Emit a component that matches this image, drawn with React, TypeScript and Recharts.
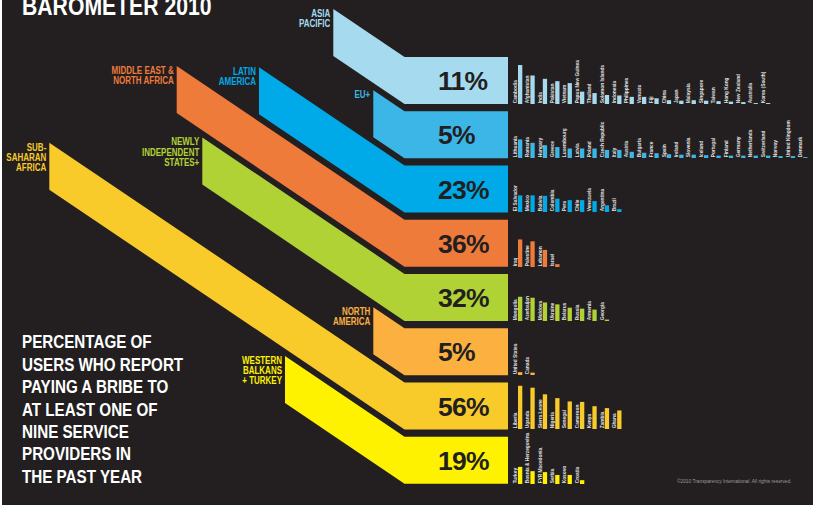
import React from 'react';
import { BarChart, Bar, XAxis, YAxis } from 'recharts';

// ---------- data ----------
const regions = [
  'ASIA PACIFIC',
  'EU+',
  'LATIN AMERICA',
  'MIDDLE EAST & NORTH AFRICA',
  'NEWLY INDEPENDENT STATES+',
  'NORTH AMERICA',
  'SUB-SAHARAN AFRICA',
  'WESTERN BALKANS + TURKEY',
];
const regionPct = [11, 5, 23, 36, 32, 5, 56, 19];
const regionLabelLines = [
  ['ASIA', 'PACIFIC'],
  ['EU+'],
  ['LATIN', 'AMERICA'],
  ['MIDDLE EAST &', 'NORTH AFRICA'],
  ['NEWLY', 'INDEPENDENT', 'STATES+'],
  ['NORTH', 'AMERICA'],
  ['SUB-', 'SAHARAN', 'AFRICA'],
  ['WESTERN', 'BALKANS', '+ TURKEY'],
];

const asiaCountries = ['Cambodia', 'Afghanistan', 'India', 'Pakistan', 'Vietnam', 'Papua New Guinea', 'Thailand', 'Solomon Islands', 'Indonesia', 'Philippines', 'Vanuatu', 'Fiji', 'China', 'Japan', 'Malaysia', 'Singapore', 'Taiwan', 'Hong Kong', 'New Zealand', 'Australia', 'Korea (South)'];
const asiaValues = [82, 60, 53, 48, 44, 26, 23, 19, 18, 15, 15, 12, 8, 7, 8, 7, 6, 5, 4, 2, 2];

const euCountries = ['Lithuania', 'Romania', 'Hungary', 'Greece', 'Luxembourg', 'Latvia', 'Poland', 'Czech Republic', 'Italy', 'Austria', 'Bulgaria', 'France', 'Spain', 'Ireland', 'Slovenia', 'Iceland', 'Portugal', 'Finland', 'Germany', 'Netherlands', 'Switzerland', 'Norway', 'United Kingdom', 'Denmark'];
const euValues = [39, 32, 27, 23, 20, 20, 20, 17, 17, 13, 11, 10, 8, 7, 7, 6, 5, 5, 5, 5, 5, 4, 4, 2];

const latamCountries = ['El Salvador', 'Mexico', 'Bolivia', 'Colombia', 'Peru', 'Chile', 'Venezuela', 'Argentina', 'Brazil'];
const latamValues = [35, 35, 34, 28, 25, 25, 23, 14, 6];

const menaCountries = ['Iraq', 'Palestine', 'Lebanon', 'Israel'];
const menaValues = [58, 54, 36, 6];

const nisCountries = ['Mongolia', 'Azerbaijan', 'Moldova', 'Ukraine', 'Belarus', 'Russia', 'Armenia', 'Georgia'];
const nisValues = [51, 49, 39, 35, 28, 26, 24, 3];

const naCountries = ['United States', 'Canada'];
const naValues = [6, 5];

const ssaCountries = ['Liberia', 'Uganda', 'Sierra Leone', 'Nigeria', 'Senegal', 'Cameroon', 'Kenya', 'Zambia', 'Ghana'];
const ssaValues = [91, 87, 73, 65, 58, 57, 48, 44, 39];

const wbCountries = ['Turkey', 'Bosnia & Herzegovina', 'FYR Macedonia', 'Serbia', 'Kosovo', 'Croatia'];
const wbValues = [36, 27, 25, 19, 19, 8];

const titleText = 'BAROMETER 2010';
const descriptionLines = [
  'PERCENTAGE OF',
  'USERS WHO REPORT',
  'PAYING A BRIBE TO',
  'AT LEAST ONE OF',
  'NINE SERVICE',
  'PROVIDERS IN',
  'THE PAST YEAR',
];
const copyrightText = '\u00A92010 Transparency International. All rights reserved.';

// ---------- styles / layout ----------
const BG = '#231f20';
const COLORS = ['#a6dbef', '#3cb6e6', '#00aae8', '#ef7b3b', '#b1d235', '#fbb040', '#f8cb2b', '#fff200'];
const BAND_X0 = [333.3, 373.3, 259, 176.7, 202.3, 373.3, 49.3, 285];
const SLOPE = 0.675;
const BOX_LEFT = 404.5;
const BOX_RIGHT = 508;
const ROW_TOP0 = 57;
const ROW_PITCH = 54.24;
const ROW_H = 47;
const SANS = "'Liberation Sans', Arial, sans-serif";
const NARROW_SCALE = 0.8;

const SLOT = 12.4;
const ROW_PLOT_LEFT = 513.5;
const ROW_PAD_LEFT = 12;
const ROW_CHART_H = 62;
const ROW_PLOT_TOP = 14.5;

const regionData = regions.map((r, i) => ({ region: r, pct: regionPct[i] }));

const countryRows = [
  [asiaCountries, asiaValues],
  [euCountries, euValues],
  [latamCountries, latamValues],
  [menaCountries, menaValues],
  [nisCountries, nisValues],
  [naCountries, naValues],
  [ssaCountries, ssaValues],
  [wbCountries, wbValues],
].map(([names, values]) =>
  (names as string[]).map((n, j) => ({ name: n, value: (values as number[])[j] }))
);

// condensed text emulation: Liberation Sans squeezed horizontally
function NText(props: any) {
  const { x, y, rotate, anchor, children, ...rest } = props;
  const rot = rotate ? ` rotate(${rotate})` : '';
  return (
    <text
      transform={`translate(${x} ${y})${rot} scale(${NARROW_SCALE} 1)`}
      x={0}
      y={0}
      textAnchor={anchor || 'start'}
      fontFamily={SANS}
      fontWeight={700}
      {...rest}
    >
      {children}
    </text>
  );
}

function RegionBand(props: any) {
  const { y, height, payload } = props;
  const i = regions.indexOf(payload.region);
  const x0 = BAND_X0[i];
  const yTop = y - SLOPE * (BOX_LEFT - x0);
  const pts = [
    [x0, yTop],
    [BOX_LEFT, y],
    [BOX_RIGHT, y],
    [BOX_RIGHT, y + height],
    [BOX_LEFT, y + height],
    [x0, yTop + height],
  ]
    .map((p) => p.join(','))
    .join(' ');
  return (
    <g>
      <polygon points={pts} fill={COLORS[i]} />
      <text
        x={438}
        y={y + height / 2 + 9.6}
        fontFamily={SANS}
        fontWeight={700}
        fontSize={26.5}
        fill={BG}
        letterSpacing={-0.8}
      >
        {payload.pct}%
      </text>
      {regionLabelLines[i].map((line, k) => (
        <NText
          key={k}
          x={x0 - 3}
          y={yTop + 8 + k * 10.2}
          anchor="end"
          fontSize={10}
          fill={COLORS[i]}
        >
          {line}
        </NText>
      ))}
    </g>
  );
}

function makeCountryShape(color: string) {
  return (props: any) => {
    const { x, y, width, height, payload } = props;
    const lx = x - 1.2;
    const ly = y + height - 0.7;
    return (
      <g>
        <rect x={x} y={y} width={width} height={height} fill={color} />
        <NText x={lx} y={ly} rotate={-90} fontSize={6} fill="#e0e0e0">
          {payload.name}
        </NText>
      </g>
    );
  };
}

export default function App() {
  return (
    <div
      style={{
        position: 'absolute',
        left: 0,
        top: 0,
        width: 813,
        height: 506,
        background: '#ffffff',
        overflow: 'hidden',
      }}
    >
      <div style={{ position: 'absolute', left: 2, top: 0, width: 811, height: 505, background: BG }} />

      <svg width={813} height={506} style={{ position: 'absolute', left: 0, top: 0 }}>
        <NText x={22} y={15} fontSize={26.5} fill="#ffffff">
          {titleText}
        </NText>
        {descriptionLines.map((l, k) => (
          <NText key={k} x={22} y={348.3 + k * 22.4} fontSize={19} fill="#ffffff">
            {l}
          </NText>
        ))}
        <text x={677} y={483.3} fontFamily={SANS} fontSize={4.8} fill="#9a9a9a">
          {copyrightText}
        </text>
      </svg>

      <div style={{ position: 'absolute', left: 0, top: 0 }}>
        <BarChart
          layout="vertical"
          width={813}
          height={506}
          data={regionData}
          margin={{ top: ROW_TOP0 - 3.62, right: 0, bottom: 506 - (ROW_TOP0 - 3.62) - 8 * ROW_PITCH, left: 0 }}
          barCategoryGap={3.62}
        >
          <XAxis type="number" hide domain={[0, 100]} />
          <YAxis type="category" dataKey="region" hide />
          <Bar dataKey="pct" isAnimationActive={false} shape={(p: any) => <RegionBand {...p} />} />
        </BarChart>
      </div>

      {countryRows.map((rowData, i) => {
        const boxBottom = ROW_TOP0 + i * ROW_PITCH + ROW_H;
        return (
          <div
            key={i}
            style={{
              position: 'absolute',
              left: ROW_PLOT_LEFT - ROW_PAD_LEFT,
              top: boxBottom - ROW_CHART_H,
            }}
          >
            <BarChart
              width={rowData.length * SLOT + ROW_PAD_LEFT}
              height={ROW_CHART_H}
              data={rowData}
              margin={{ top: ROW_PLOT_TOP, right: 0, bottom: 0, left: ROW_PAD_LEFT }}
            >
              <XAxis dataKey="name" hide />
              <YAxis hide domain={[0, 100]} />
              <Bar
                dataKey="value"
                barSize={4.3}
                isAnimationActive={false}
                shape={makeCountryShape(COLORS[i])}
              />
            </BarChart>
          </div>
        );
      })}
    </div>
  );
}
